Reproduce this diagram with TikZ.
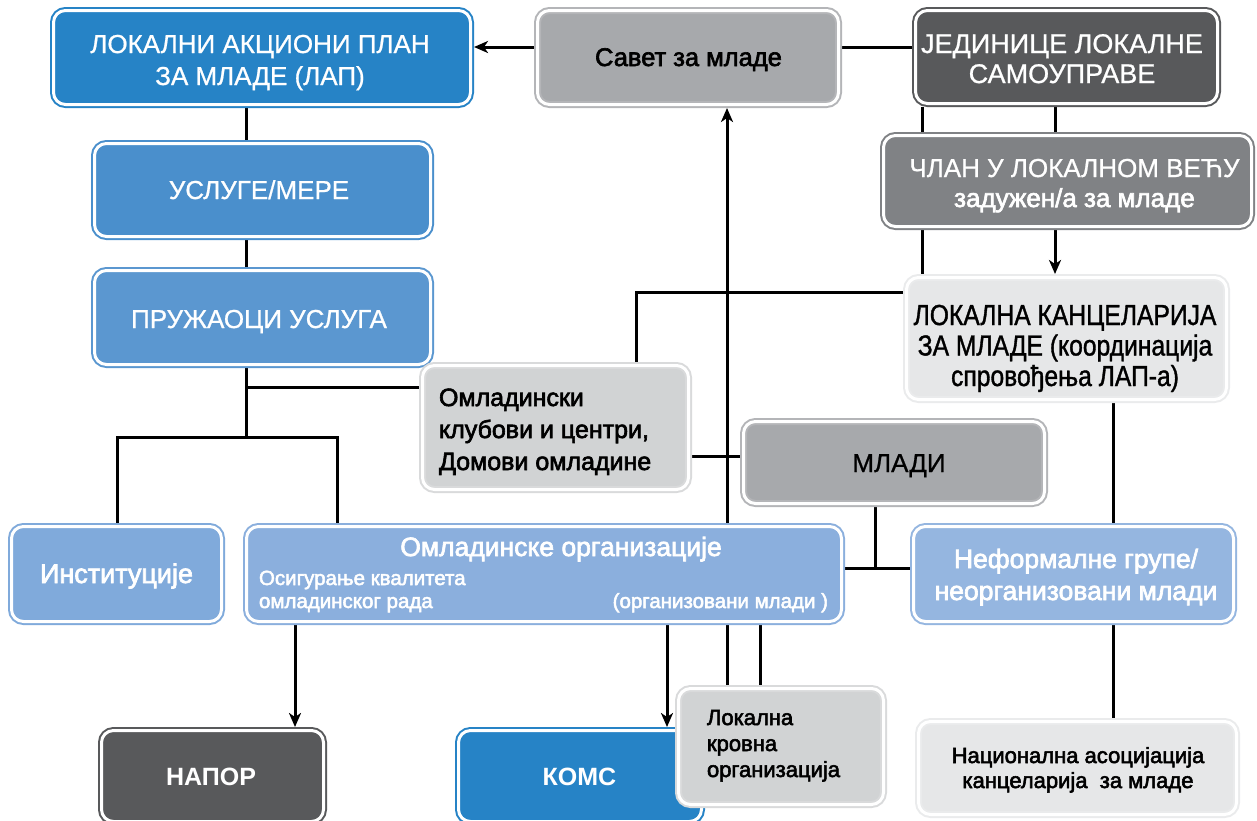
\documentclass[tikz,border=0pt]{standalone}
\usepackage{fontspec}
\setmainfont{Liberation Sans}
\newfontfamily\regfont[FakeBold=0.8]{Liberation Sans}
\newfontfamily\medfont[FakeBold=2.5]{Liberation Sans}
\newfontfamily\condfont[FakeStretch=0.85,FakeBold=1.2]{Liberation Sans}
\usetikzlibrary{arrows.meta,backgrounds}
\definecolor{blueA}{HTML}{2683C6}
\definecolor{blueB}{HTML}{4A8FCC}
\definecolor{blueC}{HTML}{5B97D0}
\definecolor{blueD}{HTML}{80AADB}
\definecolor{blueE}{HTML}{8BAFDD}
\definecolor{blueF}{HTML}{95B6E0}
\definecolor{darkG}{HTML}{58595B}
\definecolor{midG}{HTML}{808285}
\definecolor{grayA}{HTML}{A7A9AC}
\definecolor{grayAb}{HTML}{B4B5B8}
\definecolor{grayB}{HTML}{D1D3D4}
\definecolor{grayBb}{HTML}{D9DADB}
\definecolor{grayC}{HTML}{E6E7E8}
\definecolor{grayCb}{HTML}{EAEBEC}
\newcommand{\mtext}[2]{\begin{tabular}[t]{@{}#1@{}}#2\end{tabular}}
\tikzset{
  box/.style 2 args={draw=#2, fill=#1, double=white, double distance=3pt,
    line width=2pt, rounded corners=12pt, outer sep=3.5pt, inner sep=0pt},
  conn/.style={line width=3pt, black},
  arr/.style={conn, -{Stealth[length=14pt,width=12pt,inset=4pt]}},
  txt/.style={inner sep=0pt, outer sep=0pt, anchor=base},
  wt/.style={txt, text=white},
  bt/.style={txt, text=black},
}
\begin{document}
\begin{tikzpicture}[x=1pt,y=-1pt]
\useasboundingbox (0,0) rectangle (1257,820);
% boxes
\node[box={blueA}{blueA}, minimum width=417pt, minimum height=94pt] (lap) at (262,57.5) {};
\node[box={blueB}{blueB}, minimum width=336pt, minimum height=93pt] (usl) at (262.5,190) {};
\node[box={blueC}{blueC}, minimum width=336pt, minimum height=94pt] (pru) at (262.5,317.5) {};
\node[box={grayA}{grayAb}, minimum width=301pt, minimum height=94pt] (sav) at (688,57.5) {};
\node[box={darkG}{darkG}, minimum width=302pt, minimum height=93pt] (jed) at (1066.5,57) {};
\node[box={midG}{midG}, minimum width=368pt, minimum height=91pt] (cl) at (1067.5,181) {};
\node[box={grayC}{grayCb}, minimum width=320pt, minimum height=122pt] (lk) at (1066.5,338.5) {};
\node[box={grayB}{grayBb}, minimum width=266pt, minimum height=124pt] (omk) at (555.5,427.5) {};
\node[box={grayA}{grayAb}, minimum width=301pt, minimum height=82pt] (ml) at (894,462.5) {};
\node[box={blueD}{blueD}, minimum width=210pt, minimum height=95pt] (ins) at (116.5,574) {};
\node[box={blueE}{blueE}, minimum width=595pt, minimum height=95pt] (oo) at (544,574) {};
\node[box={blueF}{blueF}, minimum width=320pt, minimum height=95pt] (nef) at (1073.5,574) {};
\node[box={darkG}{darkG}, minimum width=222pt, minimum height=91pt] (nap) at (212.5,776) {};
\node[box={blueA}{blueA}, minimum width=243pt, minimum height=91pt] (koms) at (580,776) {};
\node[box={grayB}{grayBb}, minimum width=205pt, minimum height=116pt] (lkr) at (781,746.5) {};
\node[box={grayC}{grayCb}, minimum width=318pt, minimum height=93pt] (nac) at (1077.5,768) {};
% texts
\node[wt, font=\regfont\fontsize{26}{32}\selectfont] (lap-t) at (260,53)
  {\mtext{c}{ЛОКАЛНИ АКЦИОНИ ПЛАН\\ЗА МЛАДЕ (ЛАП)}};
\node[wt, font=\regfont\fontsize{26}{30}\selectfont] (usl-t) at (259,199) {УСЛУГЕ/МЕРЕ};
\node[wt, font=\regfont\fontsize{26}{30}\selectfont] (pru-t) at (259,328) {ПРУЖАОЦИ УСЛУГА};
\node[bt, font=\medfont\fontsize{25.5}{30}\selectfont] (sav-t) at (688.5,66) {Савет за младе};
\node[wt, font=\regfont\fontsize{27}{30}\selectfont] (jed-t) at (1062,53)
  {\mtext{c}{ЈЕДИНИЦЕ ЛОКАЛНЕ\\САМОУПРАВЕ}};
\node[wt, font=\regfont\fontsize{26}{30}\selectfont] (cl-t) at (1074.5,177)
  {\mtext{c}{ЧЛАН У ЛОКАЛНОМ ВЕЋУ\\{\medfont задужен/а за младе}}};
\node[bt, font=\condfont\fontsize{29}{30.5}\selectfont] (lk-t) at (1065,325)
  {\mtext{c}{ЛОКАЛНА КАНЦЕЛАРИЈА\\ЗА МЛАДЕ (координација\\спровођења ЛАП-а)}};
\node[bt, anchor=base west, font=\medfont\fontsize{25}{32}\selectfont] (omk-t) at (439,406)
  {\mtext{l}{Омладински\\клубови и центри,\\Домови омладине}};
\node[bt, font=\regfont\fontsize{26}{30}\selectfont] (ml-t) at (899,472) {МЛАДИ};
\node[wt, font=\medfont\fontsize{27}{30}\selectfont] (ins-t) at (116.5,583) {Институције};
\node[wt, font=\medfont\fontsize{26.5}{28}\selectfont] (oo-t) at (561,556) {Омладинске организације};
\node[wt, anchor=base west, font=\medfont\fontsize{20.5}{23}\selectfont] (oo-a) at (259,585)
  {\mtext{l}{Осигурање квалитета\\омладинског рада}};
\node[wt, anchor=base east, font=\medfont\fontsize{20.5}{22}\selectfont] (oo-c) at (828,608) {(организовани млади )};
\node[wt, font=\medfont\fontsize{26.5}{32}\selectfont] (nef-t) at (1076,568)
  {\mtext{c}{Неформалне групе/\\неорганизовани млади}};
\node[wt, font=\bfseries\fontsize{25}{30}\selectfont] (nap-t) at (211,785) {НАПОР};
\node[wt, font=\bfseries\fontsize{25}{30}\selectfont] (koms-t) at (579.5,785) {КОМС};
\node[bt, anchor=base west, font=\medfont\fontsize{22}{26}\selectfont] (lkr-t) at (707,725)
  {\mtext{l}{Локална\\кровна\\организација}};
\node[bt, font=\medfont\fontsize{22}{25}\selectfont] (nac-t) at (1078,763)
  {\mtext{c}{Национална асоцијација\\канцеларија\ \ за младе}};
% connectors
\begin{scope}[on background layer]
\draw[arr] (sav.west |- 0,47) -- (lap.east |- 0,47);
\draw[conn] (sav.east |- 0,47) -- (jed.west |- 0,47);
\draw[conn] (lap.south -| 246,0) -- (usl.north -| 246,0);
\draw[conn] (usl.south -| 246,0) -- (pru.north -| 246,0);
\draw[conn] (pru.south -| 246,0) -- (246,437);
\draw[conn] (246,387) -- (omk.west |- 0,387);
\draw[conn] (ins.north -| 117,0) -- (117,437) -- (337,437) -- (oo.north -| 337,0);
\draw[conn] (jed.south -| 922,0) -- (cl.north -| 922,0);
\draw[conn] (jed.south -| 1055,0) -- (cl.north -| 1055,0);
\draw[conn] (cl.south -| 922,0) -- (lk.north -| 922,0);
\draw[arr] (cl.south -| 1055,0) -- (lk.north -| 1055,0);
\draw[conn] (lk.west |- 0,292) -- (636,292) -- (omk.north -| 636,0);
\draw[conn] (lk.south -| 1113,0) -- (nef.north -| 1113,0);
\draw[conn] (nef.south -| 1113,0) -- (nac.north -| 1113,0);
\draw[arr] (lkr.north -| 727,0) -- (sav.south -| 727,0);
\draw[conn] (omk.east |- 0,456) -- (ml.west |- 0,456);
\draw[conn] (ml.south -| 875,0) -- (875,568);
\draw[conn] (oo.east |- 0,568) -- (nef.west |- 0,568);
\draw[arr] (oo.south -| 295,0) -- (nap.north -| 295,0);
\draw[arr] (oo.south -| 667,0) -- (koms.north -| 667,0);
\draw[conn] (oo.south -| 760,0) -- (lkr.north -| 760,0);
\end{scope}
\end{tikzpicture}
\end{document}
